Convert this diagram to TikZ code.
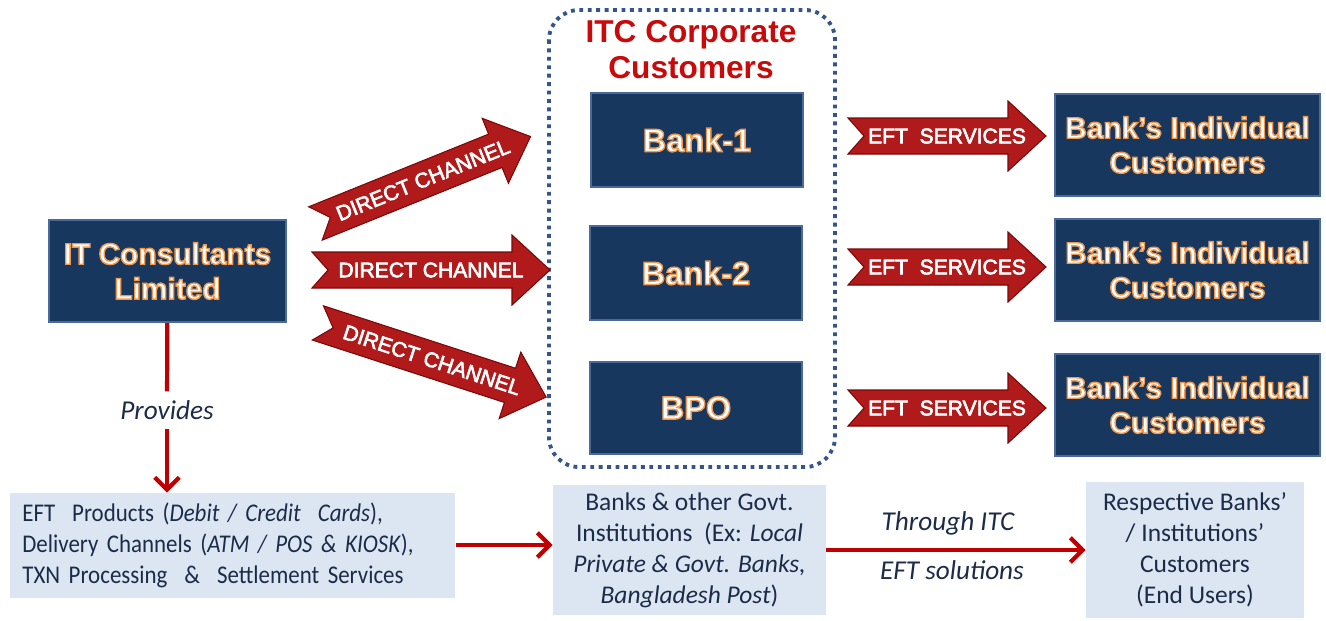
\documentclass[tikz,border=0pt]{standalone}
\usepackage{fontspec}
\setmainfont{Carlito}
\newfontfamily\headfont{Liberation Sans}
\newfontfamily\narrowfont[FakeStretch=0.9]{Carlito}
\usetikzlibrary{arrows.meta,positioning}

\definecolor{navy}{HTML}{17375E}
\definecolor{navyedge}{HTML}{4A6A9A}
\definecolor{paleblue}{HTML}{DCE6F2}
\definecolor{arrowred}{HTML}{B01A1A}
\definecolor{darkred}{HTML}{7A0808}
\definecolor{linered}{HTML}{C00000}
\definecolor{titlered}{HTML}{C80A0A}
\definecolor{inktext}{HTML}{1C2B48}
\definecolor{dotblue}{HTML}{35558A}

% white letters with a thin orange rim (fill + stroke render mode)
\newcommand\rim[1]{\special{pdf:literal direct 2 Tr 0.94 0.6 0.3 RG 0.8 w}#1\special{pdf:literal direct 0 Tr 0.4 w}}
% slightly heavier white letters for the block arrows
\newcommand\heavy[1]{\special{pdf:literal direct 2 Tr 1 1 1 RG 0.35 w}#1\special{pdf:literal direct 0 Tr 0.4 w}}

\begin{document}
\begin{tikzpicture}
  [x=0.02cm,y=-0.02cm,
   navybox/.style={draw=navyedge,line width=1.2pt,fill=navy,inner sep=0pt,
     text=white,align=center,font=\headfont\bfseries\fontsize{17}{19.8}\selectfont},
   banktext/.style={font=\headfont\bfseries\fontsize{18.5}{21}\selectfont},
   palebox/.style={fill=paleblue,inner sep=0pt,text=inktext,font=\fontsize{14.5}{17.6}\selectfont},
   arrowtext/.style={text=white,font=\headfont\fontsize{12}{14}\selectfont},
   redline/.style={draw=linered,line width=2.4pt},
   tip/.style={-{Straight Barb[length=7pt,width=14pt]}},
   note/.style={text=inktext,font=\itshape\fontsize{15.5}{18}\selectfont}]
  \useasboundingbox (0,0) rectangle (1326,620);

  % dotted frame round the corporate customers
  \draw[dotblue,line width=2.2pt,dash pattern=on 2.2pt off 2.6pt,rounded corners=0.6cm]
    (549,10) rectangle (835,467);
  \node[text=titlered,align=center,font=\headfont\bfseries\fontsize{18}{20.5}\selectfont]
    (title) at (691,50) {ITC Corporate\\Customers};

  % dark boxes
  \node[navybox,minimum width=4.74cm,minimum height=2.04cm] (itcl) at (167.5,271)
    {\rim{IT Consultants}\\\rim{Limited}};
  \node[navybox,banktext,minimum width=4.24cm,minimum height=1.88cm] (bank1) at (697,140) {\rim{Bank-1}};
  \node[navybox,banktext,minimum width=4.24cm,minimum height=1.88cm] (bank2) at (696,273) {\rim{Bank-2}};
  \node[navybox,banktext,minimum width=4.24cm,minimum height=1.84cm] (bpo)   at (696,408) {\rim{BPO}};
  \foreach \n/\y in {cust1/145,cust2/270,cust3/405}
    \node[navybox,minimum width=5.3cm,minimum height=2.04cm] (\n) at (1187.5,\y)
      {\rim{Bank’s Individual}\\\rim{Customers}};

  % notched block arrows
  \foreach \n/\x/\y/\a/\len/\t in {dc1/423/180/22/232/DIRECT CHANNEL,
      dc2/431/270/0/238/DIRECT CHANNEL, dc3/432/360/-18/240/DIRECT CHANNEL,
      eft1/947/136/0/198/EFT\ \ SERVICES, eft2/947/267/0/198/EFT\ \ SERVICES,
      eft3/947/408/0/198/EFT\ \ SERVICES}
  {
    \begin{scope}[shift={(\x,\y)},rotate=\a]
      \filldraw[fill=arrowred,draw=darkred,line width=.6pt]
        ({-\len/2},-18) -- ({\len/2-38},-18) -- ({\len/2-38},-35) -- ({\len/2},0)
        -- ({\len/2-38},35) -- ({\len/2-38},18) -- ({-\len/2},18) -- ({-\len/2+16},0) -- cycle;
      \node[arrowtext,rotate=\a] (\n) at (0,0) {\heavy{\t}};
    \end{scope}
  }

  % light boxes along the bottom
  \node[palebox,font=\narrowfont\fontsize{14.5}{17.6}\selectfont,anchor=west,align=left,
        inner xsep=0.24cm,text width=8.42cm,minimum height=2.1cm] (prod) at (10,545.5)
    {EFT\ \ Products (\textit{Debit / Credit\ \ Cards}),\\
     Delivery Channels (\textit{ATM / POS \& KIOSK}),\\
     TXN Processing\ \ \&\ \ Settlement Services};
  \node[palebox,align=center,minimum width=5.46cm,minimum height=2.6cm] (inst) at (689.5,550)
    {Banks \& other Govt.\\ Institutions\ \ (Ex: \textit{Local}\\
     \textit{Private \& Govt. Banks,}\\ \textit{Bangladesh Post})};
  \node[palebox,align=center,minimum width=4.36cm,minimum height=2.72cm] (endu) at (1195,550)
    {Respective Banks’\\ / Institutions’\\ Customers\\ (End Users)};

  % connectors
  \node[note,inner ysep=5pt] (prov) at (167,410) {Provides};
  \draw[redline] (itcl) -- (prov);
  \draw[redline,tip] (prov) -- (prod.north -| prov);
  \draw[redline,tip] (prod.east |- 0,545) -- (inst.west |- 0,545);
  \draw[redline,tip] (inst) -- (inst -| endu.west);
  \node[note] (thru) at (948,523) {Through ITC};
  \node[note] (eftsol) at (952,570) {EFT solutions};
\end{tikzpicture}
\end{document}
